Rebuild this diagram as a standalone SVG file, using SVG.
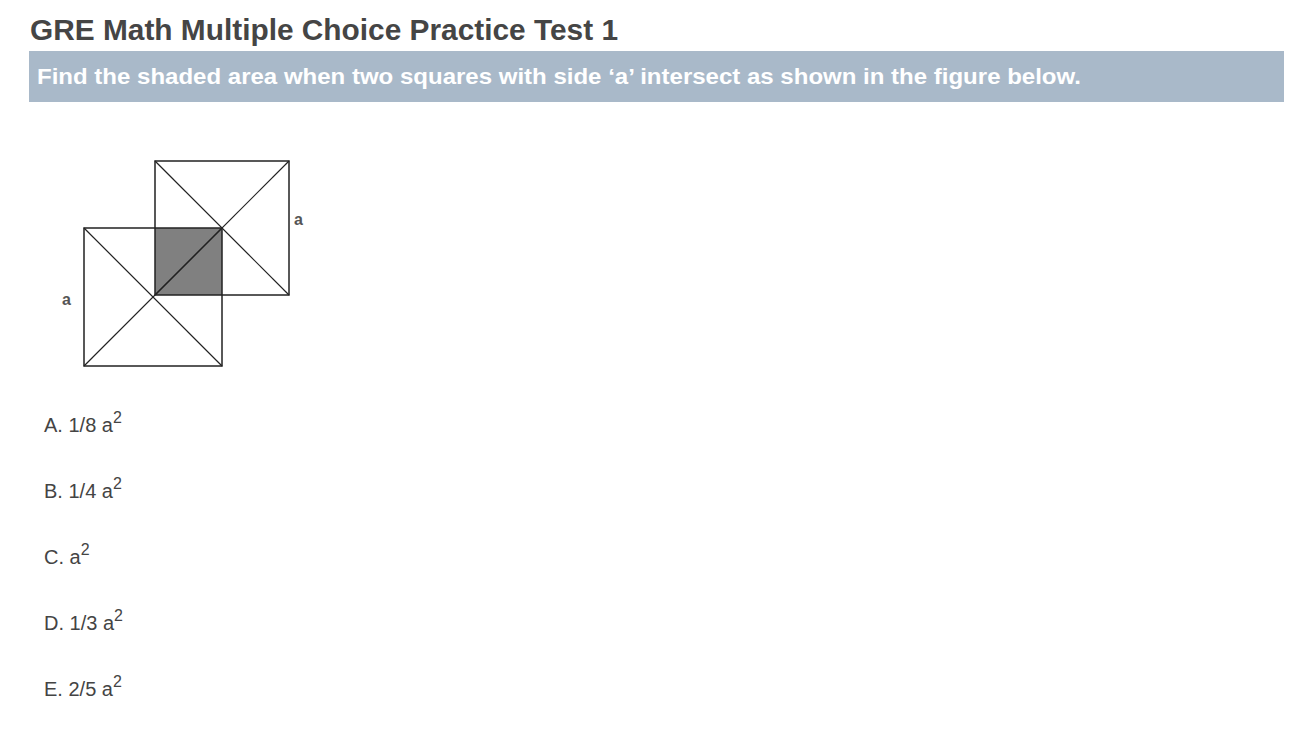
<svg xmlns="http://www.w3.org/2000/svg" width="1313" height="752" viewBox="0 0 1313 752">
<style>
.t{font-family:"Liberation Sans",Arial,sans-serif;}
.opt{font-family:"Liberation Sans",Arial,sans-serif;font-size:20px;fill:#444;}
.sq{fill:none;stroke:#222;stroke-width:1.5;}
.dg{stroke:#222;stroke-width:1.2;}
.lbl{font-family:"Liberation Sans",Arial,sans-serif;font-size:16px;font-weight:bold;fill:#555;}
</style>
<rect width="1313" height="752" fill="#fff"/>
<g id="title"><text class="t" x="30" y="40" font-size="29" font-weight="bold" fill="#454545" textLength="588" lengthAdjust="spacingAndGlyphs">GRE Math Multiple Choice Practice Test 1</text></g>
<g id="banner">
<rect x="29" y="51" width="1255" height="51" fill="#a9b9c9"/>
<text class="t" x="37" y="84" font-size="22" font-weight="bold" fill="#fff" textLength="1044" lengthAdjust="spacingAndGlyphs">Find the shaded area when two squares with side ‘a’ intersect as shown in the figure below.</text>
</g>
<g id="figure">
<rect x="155" y="228" width="67" height="67" fill="#808080"/>
<rect class="sq" x="155" y="161" width="134" height="134"/>
<line class="dg" x1="155" y1="161" x2="289" y2="295"/>
<line class="dg" x1="289" y1="161" x2="155" y2="295"/>
<rect class="sq" x="84" y="228" width="138" height="138"/>
<line class="dg" x1="84" y1="228" x2="222" y2="366"/>
<line class="dg" x1="222" y1="228" x2="84" y2="366"/>
<text class="lbl" x="294" y="225">a</text>
<text class="lbl" x="62" y="305">a</text>
</g>
<g id="options">
<text class="opt" x="44" y="432">A. 1/8 a<tspan font-size="16" dy="-9">2</tspan></text>
<text class="opt" x="44" y="498">B. 1/4 a<tspan font-size="16" dy="-9">2</tspan></text>
<text class="opt" x="44" y="564">C. a<tspan font-size="16" dy="-9">2</tspan></text>
<text class="opt" x="44" y="630">D. 1/3 a<tspan font-size="16" dy="-9">2</tspan></text>
<text class="opt" x="44" y="696">E. 2/5 a<tspan font-size="16" dy="-9">2</tspan></text>
</g>
</svg>
